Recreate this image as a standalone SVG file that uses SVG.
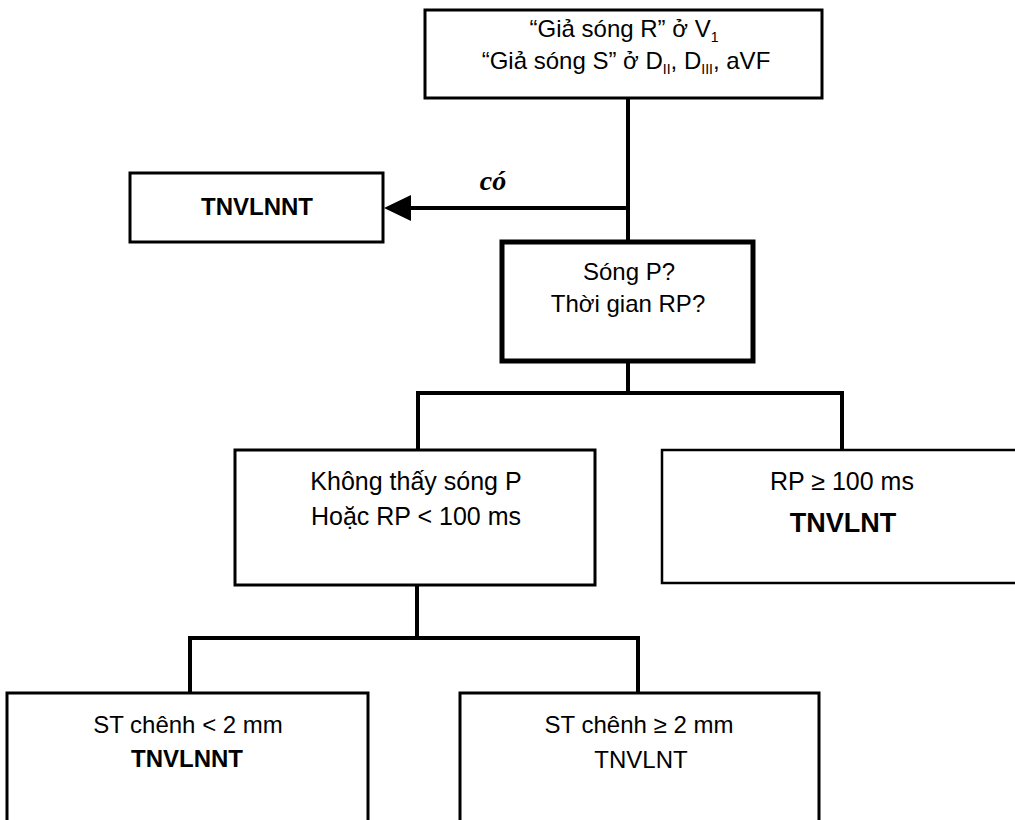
<svg xmlns="http://www.w3.org/2000/svg" width="1015" height="820" viewBox="0 0 1015 820">
<style>
.box{fill:#fff;stroke:#000;stroke-width:3}
.t{font-family:"Liberation Sans",Arial,sans-serif;font-size:24px;fill:#000;text-anchor:middle}
.l{font-size:25px}
.b{font-weight:bold}
.sub{font-size:14px}
.conn{fill:none;stroke:#000;stroke-width:4;stroke-linejoin:miter;stroke-linecap:square}
</style>
<rect width="1015" height="820" fill="#fff"/>
<g id="connectors">
<polyline class="conn" points="628,98 628,242"/>
<line class="conn" x1="628" y1="208" x2="410" y2="208" style="stroke-linecap:butt"/>
<path d="M384,208 L411,195 L411,221 Z" fill="#000"/>
<polyline class="conn" points="628,361 628,393"/>
<polyline class="conn" points="418,450 418,393 842,393 842,460"/>
<polyline class="conn" points="417,585 417,638"/>
<polyline class="conn" points="190,693 190,638 638,638 638,693"/>
<text x="493" y="190" style="font-family:'Liberation Serif','Times New Roman',serif;font-size:28px;font-weight:bold;font-style:italic;text-anchor:middle">có</text>
</g>
<g id="n_top">
<rect class="box" x="425" y="10" width="397" height="88"/>
<text class="t" x="624" y="37">“Giả sóng R” ở V<tspan class="sub" dy="5">1</tspan></text>
<text class="t" x="626" y="69">“Giả sóng S” ở D<tspan class="sub" dy="5">II</tspan><tspan dy="-5">, D</tspan><tspan class="sub" dy="5">III</tspan><tspan dy="-5">, aVF</tspan></text>
</g>
<g id="n_tnvlnnt">
<rect class="box" x="130" y="173" width="253" height="69"/>
<text class="t b" x="257" y="215">TNVLNNT</text>
</g>
<g id="n_songp">
<rect class="box" x="502" y="242" width="251" height="119" style="stroke-width:5"/>
<text class="t" x="629" y="280">Sóng P?</text>
<text class="t" x="628" y="312">Thời gian RP?</text>
</g>
<g id="n_khong">
<rect class="box" x="235" y="450" width="360" height="135"/>
<text class="t l" x="416" y="490">Không thấy sóng P</text>
<text class="t l" x="416" y="525">Hoặc RP &lt; 100 ms</text>
</g>
<g id="n_rp">
<rect class="box" x="662" y="450" width="360" height="133" style="stroke-width:2.5"/>
<text class="t l" x="842" y="490">RP ≥ 100 ms</text>
<text class="t b" x="843" y="532" style="font-size:27px">TNVLNT</text>
</g>
<g id="n_st1">
<rect class="box" x="7" y="693" width="361" height="140"/>
<text class="t" x="188" y="733">ST chênh &lt; 2 mm</text>
<text class="t b" x="187" y="767">TNVLNNT</text>
</g>
<g id="n_st2">
<rect class="box" x="460" y="693" width="359" height="140"/>
<text class="t" x="639" y="733">ST chênh ≥ 2 mm</text>
<text class="t" x="641" y="768">TNVLNT</text>
</g>
</svg>
